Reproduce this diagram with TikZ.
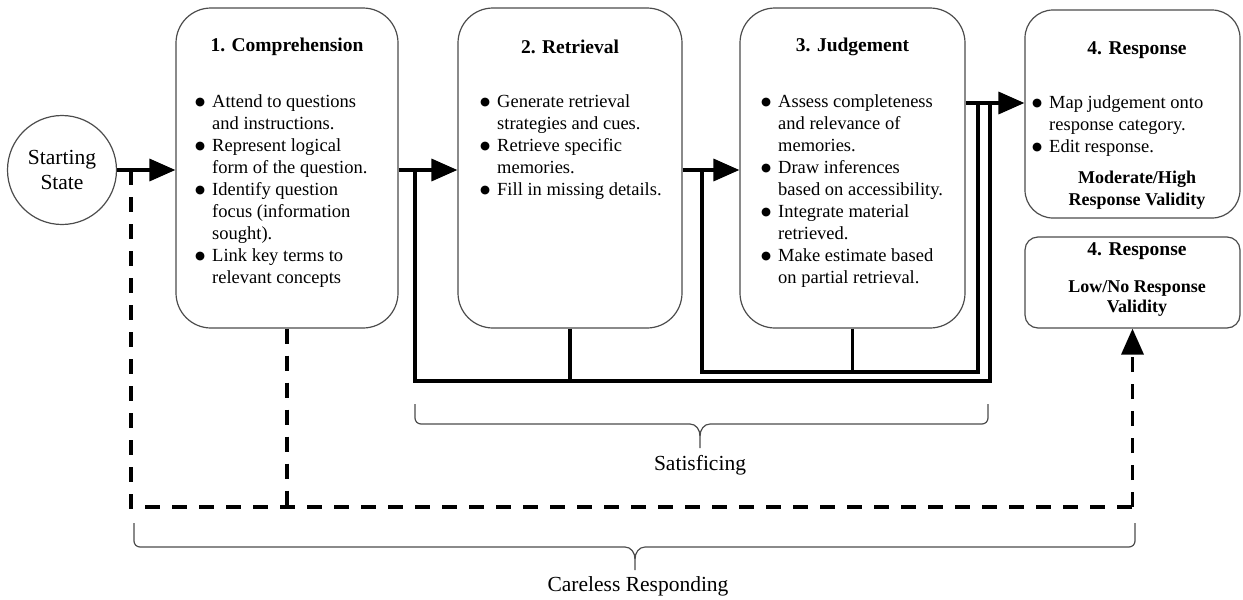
\documentclass[tikz,border=0pt]{standalone}
\usepackage{fontspec}
\setmainfont{Liberation Serif}
\newfontfamily\bulfont{DejaVu Sans}
\usetikzlibrary{arrows.meta}
\newcommand{\bul}{\makebox[0pt][r]{\raisebox{1.5pt}{\bulfont\fontsize{11.5}{10}\selectfont ●}\hspace{7pt}}}
\begin{document}
\begin{tikzpicture}[x=1pt,y=-1pt,
  stage/.style={draw=black!70, line width=1.2pt, rounded corners=35pt, inner sep=0pt},
  body/.style={inner sep=0pt, align=left, font=\fontsize{18.5}{22}\selectfont, anchor=west},
  ttl/.style={inner sep=0pt, font=\fontsize{19.5}{22}\selectfont\bfseries},
  note/.style={inner sep=0pt, align=center, font=\fontsize{18}{22}\selectfont\bfseries},
  flow/.style={line width=3.5pt},
  arr/.style={flow, -{Triangle[length=26pt,width=22pt]}},
  dsh/.style={line width=3.5pt, dash pattern=on 15pt off 12pt},
  brc/.style={draw=black!70, line width=1.2pt},
  lbl/.style={font=\fontsize{21.5}{25}\selectfont, inner sep=0pt}]
\useasboundingbox (0,0) rectangle (1243,600);

% stages
\node[draw=black!70, line width=1.2pt, circle, minimum size=109pt, inner sep=0pt,
      align=center, font=\fontsize{21.5}{25}\selectfont] (start) at (62,170) {Starting\\State};
\node[stage, minimum width=222pt, minimum height=320pt] (comp) at (287,168) {};
\node[stage, minimum width=224pt, minimum height=320pt] (retr) at (570,168) {};
\node[stage, minimum width=225pt, minimum height=320pt] (judg) at (852.5,168) {};
\node[stage, rounded corners=28pt, minimum width=215pt, minimum height=208pt] (resp) at (1132.5,114) {};
\node[stage, rounded corners=13pt, minimum width=215pt, minimum height=91pt] (resplow) at (1132.5,282.5) {};

% titles
\node[ttl] (compT) at (287,47) {1. Comprehension};
\node[ttl] (retrT) at (570,47) {2. Retrieval};
\node[ttl] (judgT) at (852.5,47) {3. Judgement};
\node[ttl] (respT) at (1137,50) {4. Response};
\node[ttl] (resplowT) at (1137,251) {4. Response};

% bodies
\node[body] (compB) at (212,191) {\strut\bul Attend to questions\\and instructions.\\\bul Represent logical\\form of the question.\\\bul Identify question\\focus (information\\sought).\\\bul Link key terms to\\relevant concepts\strut};
\node[body] (retrB) at (497,147) {\strut\bul Generate retrieval\\strategies and cues.\\\bul Retrieve specific\\memories.\\\bul Fill in missing details.\strut};
\node[body] (judgB) at (778,191) {\strut\bul Assess completeness\\and relevance of\\memories.\\\bul Draw inferences\\based on accessibility.\\\bul Integrate material\\retrieved.\\\bul Make estimate based\\on partial retrieval.\strut};
\node[body] (respB) at (1049,126) {\strut\bul Map judgement onto\\response category.\\\bul Edit response.\strut};
\node[note] (respN) at (1137,190) {\strut Moderate/High\\Response Validity\strut};
\node[note, font=\fontsize{18}{20}\selectfont\bfseries] (resplowN) at (1137,298) {\strut Low/No Response\\Validity\strut};

% junction coordinates
\coordinate (j1) at (131,170);
\coordinate (j2) at (415,170);
\coordinate (j3) at (702,170);
\coordinate (j4) at (978,103);
\coordinate (outerB) at (0,381);
\coordinate (innerB) at (0,372);
\coordinate (careB) at (0,507);

% main flow
\draw[arr] (start.east) -- (start.east -| comp.west);
\draw[arr] (comp.east |- j2) -- (retr.west |- j2);
\draw[arr] (retr.east |- j3) -- (judg.west |- j3);
\draw[arr] (judg.east |- j4) -- (resp.west |- j4);

% satisficing shortcuts
\draw[flow] (j2) -- (j2 |- outerB) -- (990,381) -- (990,103);
\draw[flow] (retr.south) -- (retr.south |- outerB);
\draw[flow] (j3) -- (j3 |- innerB) -- (978,372) -- (j4);
\draw[flow] (judg.south) -- (judg.south |- innerB);

% careless responding
\draw[dsh] (j1) -- (j1 |- careB) -- (resplow.south |- careB);
\draw[dsh] (comp.south) -- (comp.south |- careB);
\draw[dsh, -{Triangle[length=26pt,width=22pt]}] (resplow.south |- careB) -- (resplow.south);

% braces
\draw[brc, rounded corners=6pt] (415,404) -- (415,424) -- (690,424);
\draw[brc] (690,424) to[out=0,in=90] (700,436) -- (700,448);
\draw[brc, rounded corners=6pt] (988,404) -- (988,424) -- (710,424);
\draw[brc] (710,424) to[out=180,in=90] (700,436);
\node[lbl] (satL) at (700,465) {Satisficing};

\draw[brc, rounded corners=6pt] (134,523) -- (134,547) -- (625,547);
\draw[brc] (625,547) to[out=0,in=90] (635,559) -- (635,570);
\draw[brc, rounded corners=6pt] (1135,523) -- (1135,547) -- (645,547);
\draw[brc] (645,547) to[out=180,in=90] (635,559);
\node[lbl] (careL) at (638,586) {Careless Responding};
\end{tikzpicture}
\end{document}
